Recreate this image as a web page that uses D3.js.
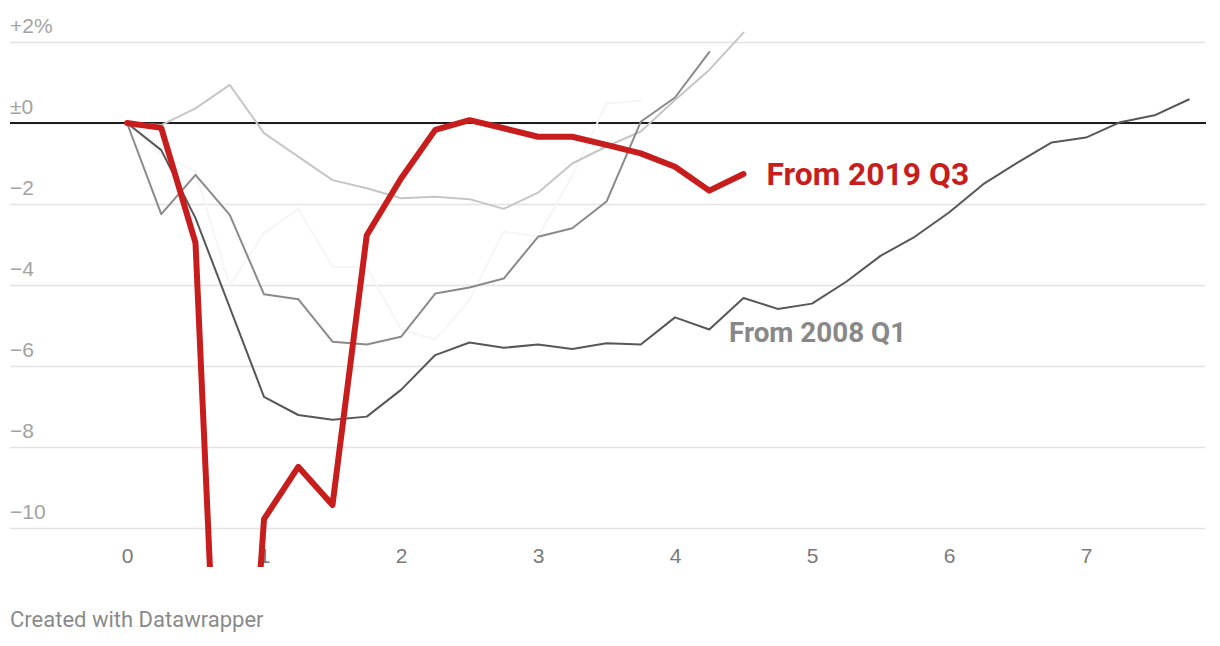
<!DOCTYPE html>
<html>
<head>
<meta charset="utf-8">
<script src="https://cdn.jsdelivr.net/npm/d3@7"></script>
<style>
  html, body { margin: 0; padding: 0; background: #fff; }
  svg { display: block; font-family: Roboto, "Noto Sans", sans-serif; }
</style>
</head>
<body>
<svg id="chart" width="1220" height="646"></svg>
<script>
// ---- data (years since start of recession, quarterly steps) ----
const xTicks = [0, 1, 2, 3, 4, 5, 6, 7];
const yTicks = [2, 0, -2, -4, -6, -8, -10];
const yTickLabels = ["+2%", "±0", "−2", "−4", "−6", "−8", "−10"];

const seriesFaint = [0, -0.77, -1.2, -4.0, -2.72, -2.12, -3.55, -3.56, -5.1, -5.35, -4.37, -2.68, -2.8, -1.3, 0.48, 0.55];
const seriesLight = [0, -0.05, 0.36, 0.94, -0.25, -0.83, -1.41, -1.61, -1.86, -1.82, -1.88, -2.12, -1.72, -1.0, -0.58, -0.21, 0.57, 1.31, 2.23];
const seriesMedium = [0, -2.25, -1.28, -2.27, -4.23, -4.35, -5.40, -5.47, -5.28, -4.21, -4.06, -3.84, -2.81, -2.60, -1.94, 0.03, 0.63, 1.75];
const from2008Q1 = [0, -0.67, -2.35, -4.55, -6.76, -7.21, -7.33, -7.25, -6.59, -5.73, -5.42, -5.55, -5.47, -5.58, -5.44, -5.47, -4.80, -5.10, -4.32, -4.59, -4.46, -3.92, -3.28, -2.81, -2.21, -1.51, -0.98, -0.48, -0.36, 0.02, 0.19, 0.58];
const from2019Q3 = [0, -0.12, -2.96, -22.0, -9.78, -8.49, -9.43, -2.77, -1.37, -0.17, 0.07, -0.13, -0.34, -0.34, -0.54, -0.75, -1.08, -1.67, -1.26];

const labelRed = "From 2019 Q3";
const labelGray = "From 2008 Q1";
const footer = "Created with Datawrapper";

// ---- layout ----
const svg = d3.select("#chart");
const x = d3.scaleLinear().domain([0, 7]).range([127, 1086]);
const y = d3.scaleLinear().domain([-10, 2]).range([528, 42]);
const gridLeft = 10, gridRight = 1205;
const clipBottom = y(-10.96);

svg.append("defs").append("clipPath").attr("id", "plotclip")
  .append("rect").attr("x", 0).attr("y", 0).attr("width", 1220).attr("height", clipBottom);

// y axis + gridlines
const yAxis = d3.axisRight(y)
  .tickValues(yTicks)
  .tickSize(gridRight - gridLeft)
  .tickFormat((d, i) => yTickLabels[i]);
const gy = svg.append("g").attr("transform", `translate(${gridLeft},0)`).call(yAxis);
gy.select(".domain").remove();
gy.selectAll(".tick line").attr("stroke", "#e3e3e3").attr("stroke-width", 1.5);
gy.selectAll(".tick text")
  .attr("x", 0).attr("dy", 0).attr("y", -10)
  .attr("text-anchor", "start")
  .attr("fill", "#a3a3a3")
  .style("font-size", "21px");

// x axis labels
const xAxis = d3.axisBottom(x).tickValues(xTicks).tickSize(0).tickFormat(d3.format("d"));
const gx = svg.append("g").attr("transform", `translate(0,${y(-10)})`).call(xAxis);
gx.select(".domain").remove();
gx.selectAll(".tick text")
  .attr("y", 35).attr("dy", 0)
  .attr("fill", "#7a7a7a")
  .style("font-size", "21px");

// zero line
svg.append("line")
  .attr("x1", gridLeft).attr("x2", gridRight + 1)
  .attr("y1", y(0)).attr("y2", y(0))
  .attr("stroke", "#1d1d1d").attr("stroke-width", 2);

// lines
const line = d3.line().x((d, i) => x(i * 0.25)).y(d => y(d));
const plot = svg.append("g").attr("clip-path", "url(#plotclip)");
const series = [
  { data: seriesFaint, color: "#f6f6f6", w: 2 },
  { data: seriesLight, color: "#c6c6c6", w: 2 },
  { data: seriesMedium, color: "#8a8a8a", w: 2 },
  { data: from2008Q1, color: "#575757", w: 2 },
  { data: from2019Q3, color: "#c71e1d", w: 6 }
];
plot.selectAll("path.series").data(series).join("path")
  .attr("class", "series")
  .attr("d", s => line(s.data))
  .attr("fill", "none")
  .attr("stroke", s => s.color)
  .attr("stroke-width", s => s.w)
  .attr("stroke-linejoin", "round")
  .attr("stroke-linecap", "round");

// direct labels
svg.append("text")
  .attr("x", x((from2019Q3.length - 1) * 0.25) + 23)
  .attr("y", 185)
  .attr("fill", "#c71e1d")
  .style("font-size", "31.8px").style("font-weight", "700")
  .text(labelRed);

svg.append("text")
  .attr("x", 729)
  .attr("y", 342)
  .attr("fill", "#888888")
  .style("font-size", "27.8px").style("font-weight", "700")
  .text(labelGray);

// footer
svg.append("text")
  .attr("x", 10).attr("y", 627)
  .attr("fill", "#8a8a8a")
  .style("font-size", "22px")
  .text(footer);
</script>
</body>
</html>
